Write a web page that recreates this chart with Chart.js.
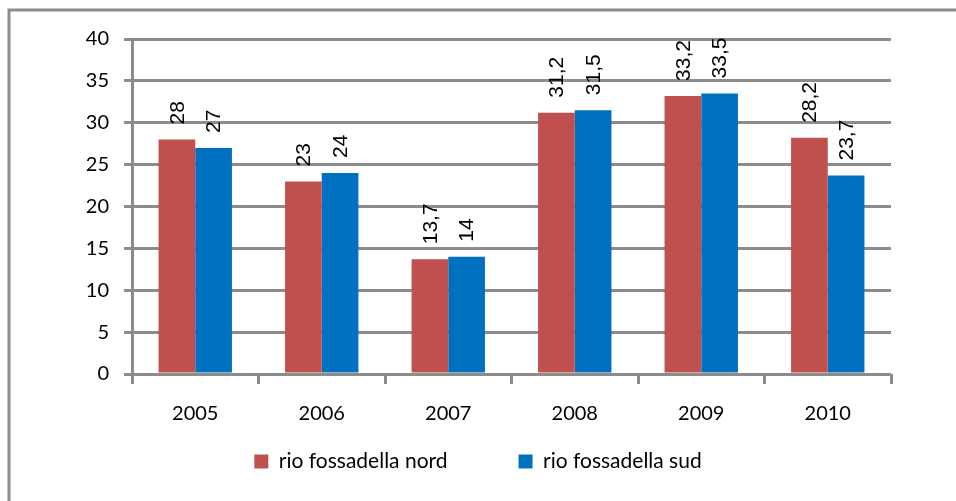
<!DOCTYPE html>
<html>
<head>
<meta charset="utf-8">
<script src="https://cdn.jsdelivr.net/npm/chart.js@4.4.1/dist/chart.umd.min.js"></script>
<style>
  body { margin: 0; background: #fff; }
  #chart { display: block; }
</style>
</head>
<body>
<canvas id="chart" width="956" height="501"></canvas>
<script>
// Data
const years = ["2005", "2006", "2007", "2008", "2009", "2010"];
const nordValues = [28, 23, 13.7, 31.2, 33.2, 28.2];
const sudValues = [27, 24, 14, 31.5, 33.5, 23.7];
const seriesNames = ["rio fossadella nord", "rio fossadella sud"];
const yTicks = [0, 5, 10, 15, 20, 25, 30, 35, 40];

const gray = "#8c8c8c";

// frame lines (top and left) like the original picture
const framePlugin = {
  id: "frame",
  beforeDraw(chart) {
    const ctx = chart.ctx;
    ctx.save();
    ctx.fillStyle = "#fff";
    ctx.fillRect(0, 0, chart.width, chart.height);
    ctx.strokeStyle = gray;
    ctx.lineWidth = 3;
    ctx.beginPath();
    ctx.moveTo(9, chart.height);
    ctx.lineTo(9, 10);
    ctx.lineTo(chart.width, 10);
    ctx.stroke();
    ctx.restore();
  },
};

// the legend padding is big to space the two items apart,
// so pull the legend back up closer to the axis labels
const legendShift = {
  id: "legendShift",
  afterLayout(chart) {
    chart.legend.top -= 46;
    chart.legend.bottom -= 46;
  },
};

// rotated value labels above each bar
const valueLabels = {
  id: "valueLabels",
  afterDatasetsDraw(chart) {
    const ctx = chart.ctx;
    ctx.save();
    ctx.font = '21px "Liberation Sans", Arial, sans-serif';
    ctx.fillStyle = "#000";
    ctx.textAlign = "left";
    ctx.textBaseline = "middle";
    chart.data.datasets.forEach((ds, i) => {
      chart.getDatasetMeta(i).data.forEach((bar, j) => {
        const txt = String(ds.data[j]).replace(".", ",");
        ctx.save();
        ctx.translate(bar.x + 1, bar.y - 15);
        ctx.rotate(-Math.PI / 2);
        ctx.fillText(txt, 0, 0);
        ctx.restore();
      });
    });
    ctx.restore();
  },
};

new Chart(document.getElementById("chart"), {
  type: "bar",
  data: {
    labels: years,
    datasets: [
      {
        label: seriesNames[0],
        data: nordValues,
        backgroundColor: "#c0504d",
        categoryPercentage: 0.58,
        barPercentage: 1,
      },
      {
        label: seriesNames[1],
        data: sudValues,
        backgroundColor: "#0070c0",
        categoryPercentage: 0.58,
        barPercentage: 1,
      },
    ],
  },
  options: {
    responsive: false,
    animation: false,
    layout: { padding: { left: 0, right: 0, top: 39, bottom: -27 } },
    plugins: {
      tooltip: { enabled: false },
      legend: {
        position: "bottom",
        labels: {
          boxWidth: 14,
          boxHeight: 14,
          padding: 71,
          color: "#000",
          font: { family: "Lato", size: 21 },
        },
      },
    },
    scales: {
      x: {
        afterFit(s) { s.height = 52; },
        grid: {
          offset: true,
          drawOnChartArea: false,
          drawTicks: true,
          tickLength: 10,
          color: gray,
          lineWidth: 3,
        },
        border: { display: false },
        ticks: { color: "#000", padding: 18, font: { family: "Lato", size: 20 } },
      },
      y: {
        min: 0,
        max: 40,
        afterFit(s) { s.width = 132; },
        afterBuildTicks(s) { s.ticks = yTicks.map((v) => ({ value: v })); },
        grid: { color: gray, lineWidth: 3, tickLength: 8 },
        border: { color: gray, width: 3 },
        ticks: { color: "#000", padding: 15, font: { family: "Lato", size: 20 } },
      },
      y2: {
        position: "right",
        afterFit(s) { s.width = 65; },
        grid: { display: false },
        border: { display: false },
        ticks: { display: false },
      },
    },
  },
  plugins: [framePlugin, legendShift, valueLabels],
});
</script>
</body>
</html>
